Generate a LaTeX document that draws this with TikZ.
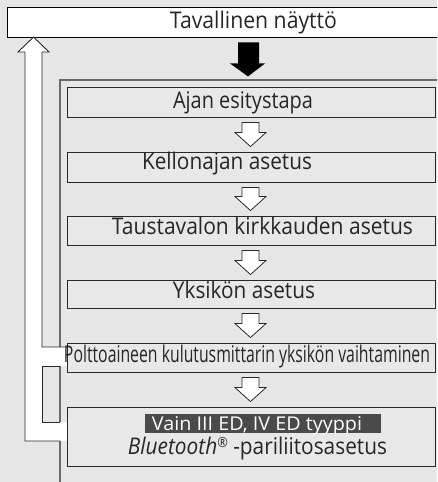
\documentclass[tikz,border=0pt]{standalone}
\usepackage{fontspec}
\setmainfont{Open Sans}
\usepackage{graphicx}
\usetikzlibrary{calc}
\definecolor{bg}{RGB}{230,230,230}
\definecolor{boxfill}{RGB}{232,232,232}
\definecolor{framegray}{RGB}{105,105,105}
\definecolor{edge}{RGB}{40,40,40}
\definecolor{bandgray}{RGB}{74,74,74}
\newcommand{\fitw}[2]{\resizebox{#1}{\height}{#2}}
\begin{document}
\begin{tikzpicture}[x=1pt,y=-1pt,
  stepbox/.style={draw=edge,line width=0.9pt,fill=boxfill,minimum width=368pt,inner sep=0pt},
  lbl/.style={anchor=base,inner sep=0pt,font=\fontsize{23}{23}\selectfont,text=black!85},
  hollow/.style={draw=edge,line width=0.8pt,fill=white,line join=miter},
  edgeline/.style={draw=edge,line width=0.9pt},
  framestyle/.style={draw=framegray,line width=1.5pt}
]
\fill[bg] (0,0) rectangle (437,482);
\clip (0,0) rectangle (437,482);

% top box
\node[draw=black,line width=0.9pt,fill=white,minimum width=493pt,minimum height=30pt,inner sep=0pt] (top) at (253.5,22) {};
\node[lbl] (t0) at (253.5,28) {\fitw{167pt}{Tavallinen näyttö}};

% frame line
\coordinate (fc) at (60,80);
\draw[framestyle] (60,490) -- (fc) -- (445,80);

% return arrow (white)
\fill[white] (33.5,37) -- (49,52) -- (42,52) -- (42,347) -- (67,347) -- (67,366) -- (42,366)
  -- (42,422) -- (67,422) -- (67,441) -- (25,441) -- (25,52) -- (18,52) -- cycle;
\draw[edgeline,line join=miter] (67,347) -- (42,347) -- (42,52) -- (49,52) -- (33.5,37) -- (18,52) -- (25,52) -- (25,441) -- (60,441);
\draw[edgeline] (60,366) -- (42,366) -- (42,422) -- (60,422);

% boxes
\node[stepbox,minimum height=30pt] (b1) at (251,102) {};
\node[stepbox,minimum height=30pt] (b2) at (251,167) {};
\node[stepbox,minimum height=29pt] (b3) at (251,230.5) {};
\node[stepbox,minimum height=28pt] (b4) at (251,294) {};
\node[stepbox,minimum height=29pt] (b5) at (251,357.5) {};
\node[stepbox,minimum height=59pt] (b6) at (251,436.5) {};

% black arrow
\fill[black] ($(top.south)+(-15.5,5)$) -- ($(top.south)+(5.5,5)$) -- ($(top.south)+(5.5,26)$)
  -- ($(top.south)+(11.5,26)$) -- ($(top.south)+(-5.5,39)$) -- ($(top.south)+(-23.5,26)$)
  -- ($(top.south)+(-15.5,26)$) -- cycle;

% hollow arrows
\foreach \a/\b in {b1/b2,b2/b3,b3/b4,b4/b5,b5/b6}{
  \draw[hollow] ($(\a.south)+(-9,5)$) -- ($(\a.south)+(8,5)$) -- ($(\b.north)+(8,-19)$)
    -- ($(\b.north)+(15,-19)$) -- ($(\b.north)+(-0.5,-5)$) -- ($(\b.north)+(-16,-19)$)
    -- ($(\b.north)+(-9,-19)$) -- cycle;
}

% texts
\node[lbl] (t1) at (243,108.5) {\fitw{140pt}{Ajan esitystapa}};
\node[lbl] (t2) at (227,169) {\fitw{170pt}{Kellonajan asetus}};
\node[lbl] (t3) at (262.5,234.5) {\fitw{301pt}{Taustavalon kirkkauden asetus}};
\node[lbl] (t4) at (244,298.5) {\fitw{142pt}{Yksikön asetus}};
\node[lbl] (t5) at (247,362.5) {\fitw{366pt}{Polttoaineen kulutusmittarin yksikön vaihtaminen}};

\node[fill=bandgray,minimum width=236pt,minimum height=19pt,inner sep=0pt] (band) at (263,423.5) {};
\node[lbl,text=white,font=\fontsize{19}{19}\selectfont] (tb) at (257,430.5) {\fitw{210pt}{Vain III ED, IV ED tyyppi}};
\node[lbl] (t6) at (257.5,454.5) {\fitw{259pt}{\textit{Bluetooth}{\fontsize{14}{14}\selectfont\raisebox{7pt}{®}} -pariliitosasetus}};
\end{tikzpicture}
\end{document}
